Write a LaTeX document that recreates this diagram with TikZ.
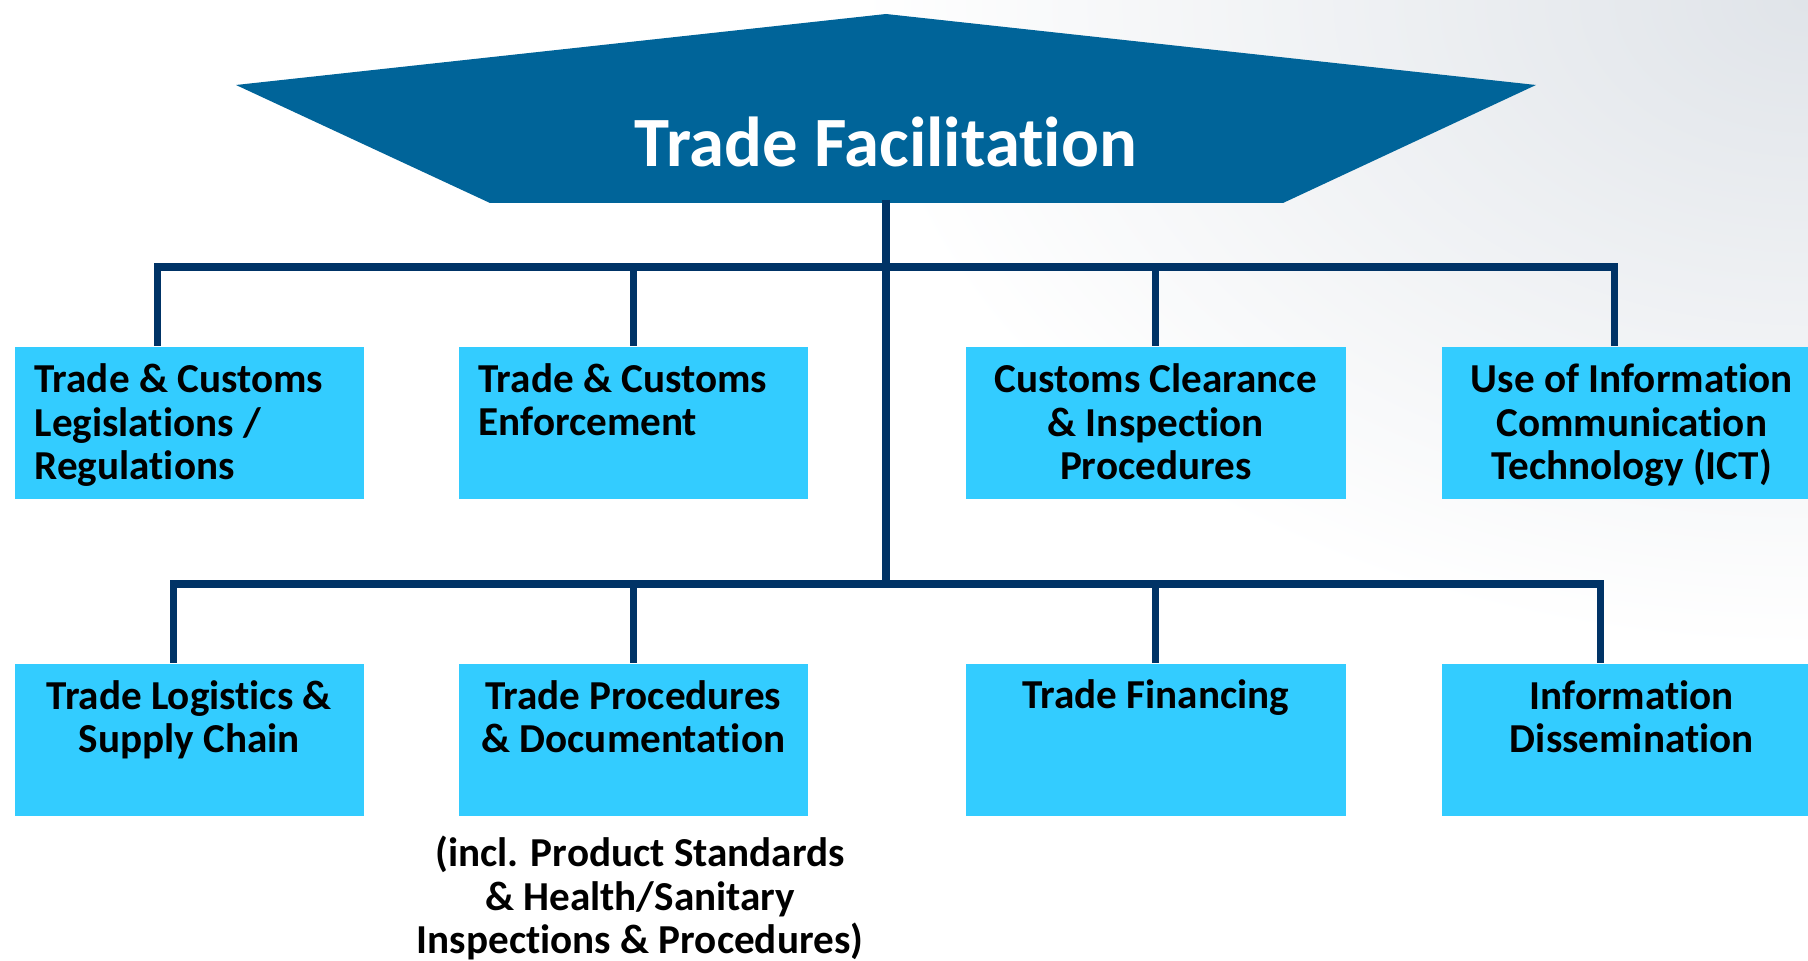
\documentclass[tikz,border=0pt]{standalone}
\usepackage{fontspec}
\setmainfont[Ligatures=NoCommon]{Carlito}
\usetikzlibrary{calc}
\definecolor{headblue}{RGB}{0,100,153}
\definecolor{cellblue}{RGB}{51,204,255}
\definecolor{linknavy}{RGB}{0,51,102}
\definecolor{bggray}{RGB}{224,228,233}
\tikzset{
  cell/.style={fill=cellblue,inner sep=0pt,anchor=north west,minimum width=3.49cm,minimum height=1.52cm},
  widecell/.style={cell,minimum width=3.8cm},
  celltext/.style={font=\bfseries\fontsize{11.7pt}{12.5pt}\selectfont,inner sep=0pt,anchor=base,align=center},
  lefttext/.style={celltext,anchor=base west,align=left},
  link/.style={draw=linknavy,line width=2pt}
}
\begin{document}
\begin{tikzpicture}[x=0.01cm,y=-0.01cm]
				\useasboundingbox (0,0) rectangle (1808,961);
				\clip (0,0) rectangle (1808,961);
				\fill[white] (0,0) rectangle (1808,961);
				\shade[inner color=bggray,outer color=white] (1808,0) ellipse (950 and 650);
				\fill[headblue] (236,85) to (886,14) to (1536,85) to (1283,203) to (490,203) to cycle;
				\node[font=\bfseries\fontsize{20.1pt}{24pt}\selectfont,text=white,inner sep=0pt,anchor=base] (head) at (886,167) {Trade Facilitation};
				\node[cell] (legis) at (14,346) {};
				\node[cell] (enforce) at (458,346) {};
				\node[widecell] (clear) at (965,346) {};
				\node[widecell] (ict) at (1441,346) {};
				\node[cell] (logist) at (14,663) {};
				\node[cell] (procdoc) at (458,663) {};
				\node[widecell] (finance) at (965,663) {};
				\node[widecell] (dissem) at (1441,663) {};
				% base anchor sits on the last line
				\node[lefttext] (legis-t) at ($(legis.north west)+(20,134)$) {Trade \& Customs\\Legislations /\\Regulations};
				\node[lefttext] (enforce-t) at ($(enforce.north west)+(20,90)$) {Trade \& Customs\\Enforcement};
				\node[celltext] (clear-t) at ($(clear.north)+(0,134)$) {Customs Clearance\\\& Inspection\\Procedures};
				\node[celltext] (ict-t) at ($(ict.north)+(0,134)$) {Use of Information\\Communication\\Technology (ICT)};
				\node[celltext] (logist-t) at ($(logist.north)+(0,90)$) {Trade Logistics \&\\Supply Chain};
				\node[celltext] (procdoc-t) at ($(procdoc.north)+(0,90)$) {Trade Procedures\\\& Documentation};
				\node[celltext] (finance-t) at ($(finance.north)+(0,46)$) {Trade Financing};
				\node[celltext] (dissem-t) at ($(dissem.north)+(0,90)$) {Information\\Dissemination};
				\node[celltext] (note) at (640,954) {(incl. Product Standards\\\& Health/Sanitary\\Inspections \& Procedures)};
				\coordinate (hub) at (886,200);
				\coordinate (upbus) at (886,267);
				\coordinate (lowbus) at (886,584);
				\draw[link] (hub) to (lowbus);
				\draw[link] ($(legis.north)+(-32,0)$) |- (upbus) -| ($(ict.north)+(-17,0)$);
				\draw[link] (enforce.north) to (enforce.north |- upbus);
				\draw[link] (clear.north) to (clear.north |- upbus);
				\draw[link] ($(logist.north)+(-16,0)$) |- (lowbus) -| ($(dissem.north)+(-31,0)$);
				\draw[link] (procdoc.north) to (procdoc.north |- lowbus);
				\draw[link] (finance.north) to (finance.north |- lowbus);
			\end{tikzpicture}
\end{document}
